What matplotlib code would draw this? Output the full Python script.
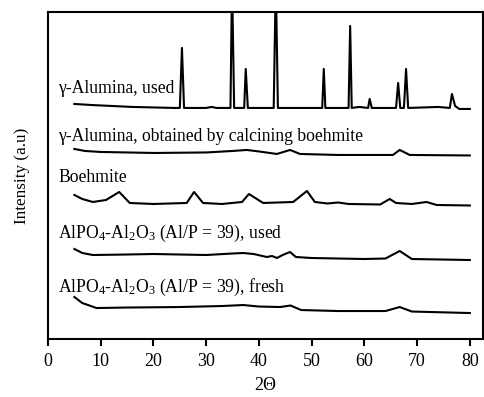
import matplotlib
matplotlib.use("Agg")
import matplotlib.pyplot as plt

plt.rcParams['font.family'] = ['Liberation Serif', 'DejaVu Serif']
plt.rcParams['mathtext.fontset'] = 'custom'
plt.rcParams['mathtext.rm'] = 'Liberation Serif'
plt.rcParams['mathtext.it'] = 'Liberation Serif:italic'

# XRD patterns (intensity in arbitrary units, offsets included)
used_x = [5, 8, 12, 16, 20, 24, 25.0, 25.4, 25.8, 30, 31, 32, 34.6, 34.9, 35.3, 37.2, 37.5, 37.9,
          42.8, 43.2, 43.6, 52.0, 52.3, 52.6, 57.0, 57.3, 57.6, 59, 60.7, 61.0, 61.4, 66.0, 66.4,
          66.8, 67.5, 67.9, 68.3, 74, 76.2, 76.6, 77.2, 78, 80]
used_y = [235, 234, 233, 232, 231.5, 231, 231, 291, 231, 231, 232, 231, 231, 359, 231, 231, 270, 231,
          231, 359, 231, 231, 270, 231, 231, 313, 231, 232, 231, 240, 231, 231, 256,
          231, 231, 270, 231, 232, 231, 245, 233, 230, 230]

calc_x = [5, 7, 10, 20, 30, 35, 37.7, 40, 43.4, 45.9, 47.8, 55, 65.4, 66.7, 68.6, 80]
calc_y = [190, 188, 187, 186, 186.5, 188, 189, 187.5, 185, 189, 185, 184, 184, 189, 184, 183.5]

boeh_x = [5, 6.5, 8.5, 11, 13.5, 15.5, 20, 26.3, 27.7, 29.4, 33, 36.8, 38.1, 40.8, 46.5, 49.1,
          50.6, 53, 55, 57, 63, 64.8, 66, 69, 71.8, 73.7, 80]
boeh_y = [144, 140, 137, 139, 147, 136, 135, 136, 147, 136, 135, 137, 145, 136, 137, 148,
          137, 135.5, 136.5, 135, 134.5, 140, 136, 135, 137, 134, 133.5]

alpo_used_x = [5, 6.5, 8.5, 15, 20, 30, 35, 37, 39, 41.5, 42.5, 43.4, 44.5, 45.9, 47, 50, 60, 64,
               66.7, 69, 80]
alpo_used_y = [90, 86, 84, 84.5, 85, 84, 85.5, 86, 85, 82, 83, 81, 84, 87, 82, 81, 80, 80.5,
               88, 80, 79]

alpo_fresh_x = [5, 6.5, 9.2, 15, 25, 33, 37, 40, 44, 46, 48, 55, 64, 66.7, 69, 80]
alpo_fresh_y = [42, 36, 31, 31.5, 32, 33, 34, 32.5, 32, 33.5, 29, 28, 28, 32, 27.5, 26]

labels = ['γ-Alumina, used',
          'γ-Alumina, obtained by calcining boehmite',
          'Boehmite',
          r'AlPO$_4$-Al$_2$O$_3$ (Al/P = 39), used',
          r'AlPO$_4$-Al$_2$O$_3$ (Al/P = 39), fresh']
label_y = [250, 202, 161, 106, 52]

fig = plt.figure(figsize=(4.84, 3.97), dpi=100)
ax = fig.add_axes([0.0992, 0.146, 0.8988, 0.824])

for xs, ys in [(used_x, used_y), (calc_x, calc_y), (boeh_x, boeh_y),
               (alpo_used_x, alpo_used_y), (alpo_fresh_x, alpo_fresh_y)]:
    ax.plot(xs, ys, color='black', lw=1.5)

for txt, yy in zip(labels, label_y):
    ax.text(1.9, yy, txt, fontsize=12.7, ha='left', va='center')

ax.set_xlim(0, 82.5)
ax.set_ylim(0, 327)
ax.set_xticks(range(0, 81, 10))
ax.set_yticks([])
ax.tick_params(axis='x', direction='out', length=5, width=1.5, labelsize=13, pad=5)
for s in ax.spines.values():
    s.set_linewidth(1.5)
ax.set_xlabel('2Θ', fontsize=13, labelpad=5)
ax.set_ylabel('Intensity (a.u)', fontsize=12.3, labelpad=13)

fig.savefig('out.png', dpi=100)
